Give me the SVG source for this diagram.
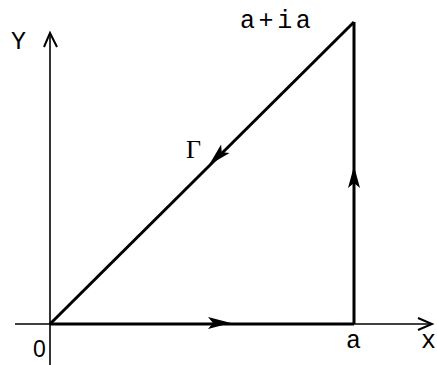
<svg xmlns="http://www.w3.org/2000/svg" width="437" height="365" viewBox="0 0 437 365">
<style>
.axis{stroke:#000;stroke-width:1.6;fill:none}
.head{stroke:#000;stroke-width:2;fill:none}
.path{stroke:#000;stroke-width:3;fill:none}
.lbl{font-family:"Liberation Mono",monospace;font-size:25px;fill:#000}
.gam{font-family:"Liberation Serif",serif;font-size:26px;fill:#000}
.zero{font-family:"Liberation Sans",sans-serif;font-size:23px;fill:#000}
.arr{fill:#000}
</style>
<rect width="437" height="365" fill="#fff"/>
<g id="axes">
<line class="axis" x1="50" y1="35" x2="50" y2="365"/>
<path class="head" d="M44,47 L50,33 L57,47"/>
<line class="axis" x1="15" y1="324" x2="431" y2="324"/>
<path class="head" d="M418,318 L432,324 L418,330"/>
</g>
<g id="connectors">
<line class="path" x1="50" y1="324" x2="354" y2="324"/>
<line class="path" x1="354" y1="324" x2="354" y2="22"/>
<line class="path" x1="354" y1="22" x2="50" y2="324"/>
<path class="arr" d="M231,323 L208,317 L213,323 L208,329 Z"/>
<path class="arr" d="M354,166 L348,188 L354,183 L360,188 Z"/>
<path class="arr" transform="translate(209,165) rotate(135.2)" d="M0,0 L-23,-6 L-18,0 L-23,6 Z"/>
</g>
<g id="labels">
<text class="lbl" x="11" y="49">Y</text>
<text class="lbl" x="240" y="28" letter-spacing="3.6">a+ia</text>
<text class="gam" x="186" y="158">Γ</text>
<text class="zero" x="33" y="357">0</text>
<text class="lbl" x="346" y="348">a</text>
<text class="lbl" x="421" y="348">x</text>
</g>
</svg>
